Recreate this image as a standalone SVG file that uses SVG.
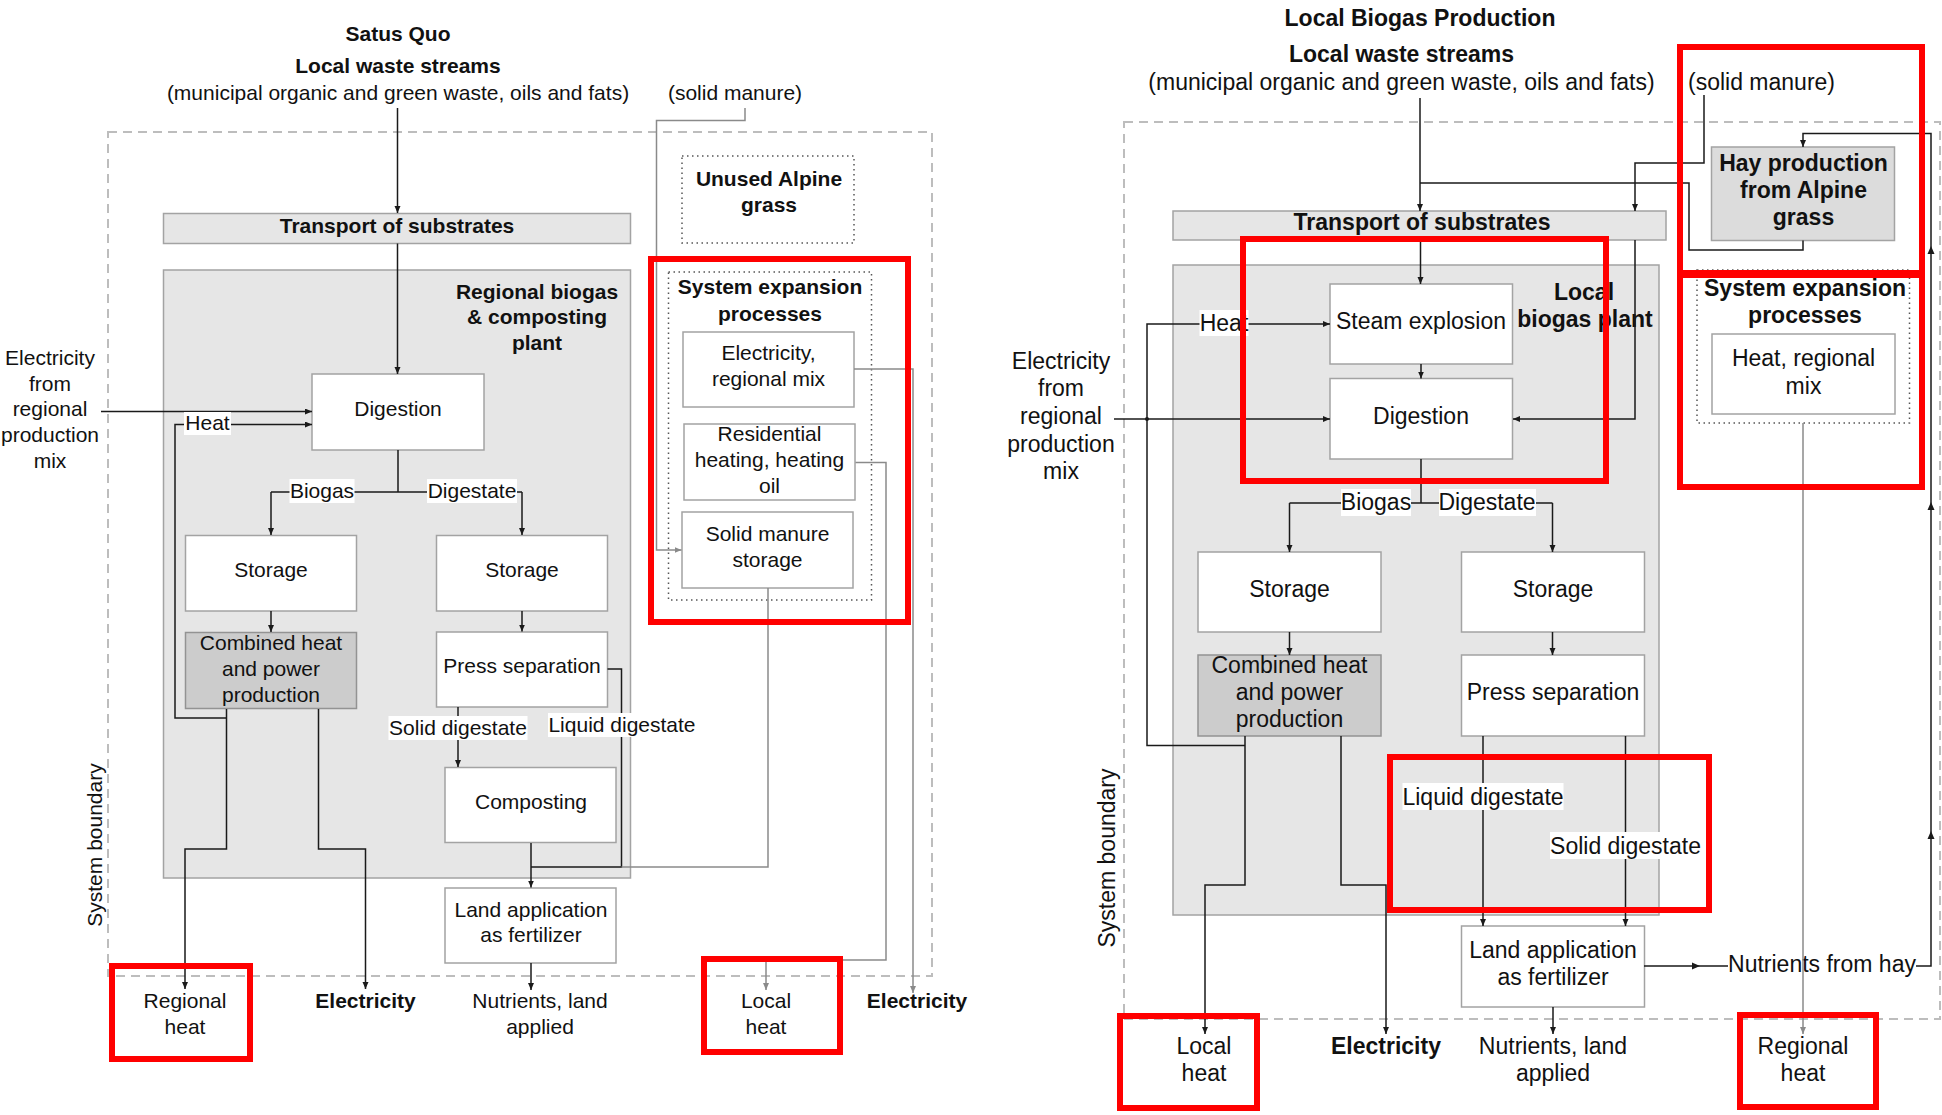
<svg xmlns="http://www.w3.org/2000/svg" width="1942" height="1115" viewBox="0 0 1942 1115">
<style>
text{font-family:"Liberation Sans",Arial,sans-serif;text-anchor:middle;dominant-baseline:central;fill:#111}
.L text{font-size:21px}
.R text{font-size:23px}
.b{font-weight:bold}
.box{fill:#fff;stroke:#a3a3a3;stroke-width:1.5}
.grey{fill:#e6e6e6;stroke:#a3a3a3;stroke-width:1.5}
.hay{fill:#dcdcdc;stroke:#a3a3a3;stroke-width:1.5}
.chp{fill:#cccccc;stroke:#939393;stroke-width:1.5}
.dot{fill:none;stroke:#555;stroke-width:1.5;stroke-dasharray:1.5 3.5}
.bnd{fill:none;stroke:#bdbdbd;stroke-width:2;stroke-dasharray:9 6}
.red{fill:none;stroke:#ff0000;stroke-width:6}
.c{fill:none;stroke:#1a1a1a;stroke-width:1.5}
.ca{fill:none;stroke:#1a1a1a;stroke-width:1.5;marker-end:url(#a)}
.g{fill:none;stroke:#8a8a8a;stroke-width:1.5}
.ga{fill:none;stroke:#8a8a8a;stroke-width:1.5;marker-end:url(#ag)}
.lb{fill:#fff}
.mk{fill:#1a1a1a}
</style>
<defs>
<marker id="a" markerWidth="8" markerHeight="8" refX="7" refY="3" orient="auto" markerUnits="userSpaceOnUse"><path d="M0,0 L7,3 L0,6 z" fill="#1a1a1a"/></marker>
<marker id="ag" markerWidth="8" markerHeight="8" refX="7" refY="3" orient="auto" markerUnits="userSpaceOnUse"><path d="M0,0 L7,3 L0,6 z" fill="#8a8a8a"/></marker>
</defs>
<rect width="1942" height="1115" fill="#fff"/>

<!-- ================= LEFT: Status Quo ================= -->
<g class="L" id="left">
  <g id="L-titles">
    <text class="b" x="398" y="33.5">Satus Quo</text>
    <text class="b" x="398" y="65">Local waste streams</text>
    <text x="398" y="92">(municipal organic and green waste, oils and fats)</text>
    <text x="735" y="92">(solid manure)</text>
  </g>
  <rect id="L-boundary" class="bnd" x="108" y="132" width="824" height="844"/>
  <text id="L-boundary-label" x="94" y="845" transform="rotate(-90 94 845)">System boundary</text>
  <g id="L-elec-in">
    <text x="50" y="357">Electricity</text>
    <text x="50" y="383">from</text>
    <text x="50" y="408.5">regional</text>
    <text x="50" y="434.5">production</text>
    <text x="50" y="460">mix</text>
  </g>
  <g id="L-transport">
    <rect class="grey" x="163.5" y="213.5" width="467" height="30"/>
    <text class="b" x="397" y="225.5">Transport of substrates</text>
  </g>
  <g id="L-plant">
    <rect class="grey" x="163.5" y="270" width="467" height="608"/>
    <text class="b" x="537" y="291">Regional biogas</text>
    <text class="b" x="537" y="316">&amp; composting</text>
    <text class="b" x="537" y="342">plant</text>
  </g>
  <g id="L-unused">
    <rect class="dot" x="682" y="156" width="172" height="87"/>
    <text class="b" x="769" y="178">Unused Alpine</text>
    <text class="b" x="769" y="204">grass</text>
  </g>
  <g id="L-sysexp">
    <rect class="dot" x="668.5" y="272" width="203" height="328"/>
    <text class="b" x="770" y="286.5">System expansion</text>
    <text class="b" x="770" y="313">processes</text>
  </g>
  <g id="L-elecmix">
    <rect class="box" x="683" y="332" width="171" height="75"/>
    <text x="768.5" y="352.5">Electricity,</text>
    <text x="768.5" y="378">regional mix</text>
  </g>
  <g id="L-residential">
    <rect class="box" x="684" y="424" width="171" height="76"/>
    <text x="769.5" y="433">Residential</text>
    <text x="769.5" y="459">heating, heating</text>
    <text x="769.5" y="485">oil</text>
  </g>
  <g id="L-manure">
    <rect class="box" x="682" y="512" width="171" height="76"/>
    <text x="767.5" y="533">Solid manure</text>
    <text x="767.5" y="559">storage</text>
  </g>
  <g id="L-digestion">
    <rect class="box" x="312" y="374" width="172" height="76"/>
    <text x="398" y="408">Digestion</text>
  </g>
  <g id="L-storage1">
    <rect class="box" x="185.5" y="535.5" width="171" height="75.5"/>
    <text x="271" y="569">Storage</text>
  </g>
  <g id="L-storage2">
    <rect class="box" x="436.5" y="535.5" width="171" height="75.5"/>
    <text x="522" y="569">Storage</text>
  </g>
  <g id="L-chp">
    <rect class="chp" x="185.5" y="632.5" width="171" height="76"/>
    <text x="271" y="642">Combined heat</text>
    <text x="271" y="668">and power</text>
    <text x="271" y="694">production</text>
  </g>
  <g id="L-press">
    <rect class="box" x="436.5" y="632" width="171" height="75"/>
    <text x="522" y="665.5">Press separation</text>
  </g>
  <g id="L-composting">
    <rect class="box" x="445" y="767.5" width="171" height="75"/>
    <text x="531" y="801">Composting</text>
  </g>
  <g id="L-land">
    <rect class="box" x="445" y="888" width="171" height="75"/>
    <text x="531" y="909">Land application</text>
    <text x="531" y="934">as fertilizer</text>
  </g>
  <g id="L-out-regheat"><text x="185" y="1000">Regional</text><text x="185" y="1026">heat</text></g>
  <g id="L-out-elec1"><text class="b" x="365.5" y="1000">Electricity</text></g>
  <g id="L-out-nutr"><text x="540" y="1000">Nutrients, land</text><text x="540" y="1026">applied</text></g>
  <g id="L-out-localheat"><text x="766" y="1000">Local</text><text x="766" y="1026">heat</text></g>
  <g id="L-out-elec2"><text class="b" x="917" y="1000">Electricity</text></g>

  <g id="L-connectors">
    <path class="ca" d="M397.5,108 V213"/>
    <path class="ca" d="M397.5,243.5 V374"/>
    <path class="ca" d="M101,411.5 H312"/>
    <path class="ca" d="M226.5,718 H175 V424.5 H312"/>
    <rect class="lb" x="184" y="412" width="47" height="23"/>
    <text x="207.5" y="422.5">Heat</text>
    <path class="ca" d="M226.5,709 V849 H185 V989"/>
    <path class="ca" d="M318.5,709 V849 H365.5 V989"/>
    <path class="c" d="M398,450 V492 M271,492 H522"/>
    <path class="ca" d="M271,492 V535"/>
    <path class="ca" d="M522,492 V535"/>
    <rect class="lb" x="289.5" y="479" width="65" height="24"/>
    <text x="322" y="490">Biogas</text>
    <rect class="lb" x="427" y="479" width="90" height="24"/>
    <text x="472" y="490">Digestate</text>
    <path class="ca" d="M271,611 V632"/>
    <path class="ca" d="M522,611 V631.5"/>
    <path class="ca" d="M458,707 V767"/>
    <rect class="lb" x="388.5" y="716" width="139" height="24"/>
    <text x="458" y="727.5">Solid digestate</text>
    <path class="c" d="M607.5,669 H621.5 V867 H531"/>
    <rect class="lb" x="548" y="713" width="148" height="24"/>
    <text x="622" y="724.5">Liquid digestate</text>
    <path class="ca" d="M531,843 V887.5"/>
    <path class="g" d="M768,588 V867 H621.5"/>
    <path class="ca" d="M531,963 V990"/>
    <path class="ga" d="M745,108 V120.5 H656.5 V550 H681.5"/>
    <path class="ga" d="M854,369 H913 V993"/>
    <path class="ga" d="M855.5,462.5 H886 V960 H766 V990"/>
  </g>

  <g id="L-highlights">
    <rect class="red" x="651" y="259" width="257" height="363"/>
    <rect class="red" x="112" y="966" width="138" height="93"/>
    <rect class="red" x="704" y="959" width="136" height="93"/>
  </g>
</g>

<!-- ================= RIGHT: Local Biogas Production ================= -->
<g class="R" id="right">
  <g id="R-titles">
    <text class="b" x="1420" y="17.5">Local Biogas Production</text>
    <text class="b" x="1401.5" y="54">Local waste streams</text>
    <text x="1401.5" y="82">(municipal organic and green waste, oils and fats)</text>
    <text x="1761.5" y="82">(solid manure)</text>
  </g>
  <rect id="R-boundary" class="bnd" x="1124" y="122" width="816" height="897"/>
  <text id="R-boundary-label" x="1107" y="858" transform="rotate(-90 1107 858)">System boundary</text>
  <g id="R-elec-in">
    <text x="1061" y="361">Electricity</text>
    <text x="1061" y="388">from</text>
    <text x="1061" y="416">regional</text>
    <text x="1061" y="444">production</text>
    <text x="1061" y="471">mix</text>
  </g>
  <g id="R-transport">
    <rect class="grey" x="1173" y="211" width="493" height="29"/>
    <text class="b" x="1422" y="222">Transport of substrates</text>
  </g>
  <g id="R-plant">
    <rect class="grey" x="1173" y="265" width="486" height="650"/>
    <text class="b" x="1584" y="292">Local</text>
    <text class="b" x="1585" y="319">biogas plant</text>
  </g>
  <g id="R-hay">
    <rect class="hay" x="1711.5" y="147" width="183" height="93.5"/>
    <text class="b" x="1803.5" y="163">Hay production</text>
    <text class="b" x="1803.5" y="190">from Alpine</text>
    <text class="b" x="1803.5" y="217">grass</text>
  </g>
  <g id="R-sysexp">
    <rect class="dot" x="1697" y="270" width="212.5" height="153"/>
    <text class="b" x="1805" y="288">System expansion</text>
    <text class="b" x="1805" y="315">processes</text>
  </g>
  <g id="R-heatmix">
    <rect class="box" x="1712" y="334" width="183" height="80"/>
    <text x="1803.5" y="358">Heat, regional</text>
    <text x="1803.5" y="386">mix</text>
  </g>
  <g id="R-steam">
    <rect class="box" x="1330" y="284" width="182.5" height="80"/>
    <text x="1421" y="321">Steam explosion</text>
  </g>
  <g id="R-digestion">
    <rect class="box" x="1330" y="378.5" width="182.5" height="80.5"/>
    <text x="1421" y="416">Digestion</text>
  </g>
  <g id="R-storage1">
    <rect class="box" x="1198" y="552" width="183" height="80"/>
    <text x="1289.5" y="588.5">Storage</text>
  </g>
  <g id="R-storage2">
    <rect class="box" x="1461.5" y="552" width="183" height="80"/>
    <text x="1553" y="588.5">Storage</text>
  </g>
  <g id="R-chp">
    <rect class="chp" x="1198" y="655" width="183" height="81"/>
    <text x="1289.5" y="665">Combined heat</text>
    <text x="1289.5" y="692">and power</text>
    <text x="1289.5" y="719">production</text>
  </g>
  <g id="R-press">
    <rect class="box" x="1461.5" y="655" width="183" height="81"/>
    <text x="1553" y="691.5">Press separation</text>
  </g>
  <g id="R-land">
    <rect class="box" x="1461.5" y="926" width="183" height="81"/>
    <text x="1553" y="949.5">Land application</text>
    <text x="1553" y="976.5">as fertilizer</text>
  </g>
  <g id="R-out-localheat"><text x="1204" y="1045.5">Local</text><text x="1204" y="1072.5">heat</text></g>
  <g id="R-out-elec"><text class="b" x="1386" y="1045.5">Electricity</text></g>
  <g id="R-out-nutr"><text x="1553" y="1045.5">Nutrients, land</text><text x="1553" y="1072.5">applied</text></g>
  <g id="R-out-regheat"><text x="1803" y="1045.5">Regional</text><text x="1803" y="1072.5">heat</text></g>

  <g id="R-connectors">
    <path class="ca" d="M1420,98 V211"/>
    <path class="c" d="M1803,240.5 V250 H1689 V183 H1420"/>
    <path class="ca" d="M1704,95 V163 H1635 V211"/>
    <path class="ca" d="M1635,240 V419 H1513"/>
    <path class="ca" d="M1420.5,240 V284"/>
    <path class="ca" d="M1421,364 V378.5"/>
    <path class="ca" d="M1114,419 H1330"/>
    <circle class="mk" cx="1147" cy="419" r="2"/>
    <path class="ca" d="M1245,745.5 H1147 V324 H1330"/>
    <rect class="lb" x="1199.5" y="310" width="49" height="26"/>
    <text x="1224" y="322.5">Heat</text>
    <path class="ca" d="M1245,736 V885 H1205 V1034"/>
    <path class="ca" d="M1341,736 V885 H1386 V1034"/>
    <path class="c" d="M1421,459 V503 M1289.5,503 H1552.5"/>
    <path class="ca" d="M1289.5,503 V552"/>
    <path class="ca" d="M1552.5,503 V552"/>
    <rect class="lb" x="1341" y="489" width="70" height="27"/>
    <text x="1376" y="502">Biogas</text>
    <rect class="lb" x="1439" y="489" width="97" height="27"/>
    <text x="1487" y="502">Digestate</text>
    <path class="ca" d="M1289.5,632 V655"/>
    <path class="ca" d="M1552.5,632 V655"/>
    <path class="ca" d="M1483,736 V926"/>
    <rect class="lb" x="1402.5" y="783" width="161" height="27"/>
    <text x="1483" y="796.5">Liquid digestate</text>
    <path class="ca" d="M1625.5,736 V926"/>
    <rect class="lb" x="1550" y="832" width="151" height="27"/>
    <text x="1625.5" y="846">Solid digestate</text>
    <path class="ca" d="M1553,1007 V1034"/>
    <path class="ca" d="M1644,966 H1931 V133.5 H1803 V147"/>
    <polygon class="mk" points="1692,962.5 1700,966 1692,969.5"/>
    <polygon class="mk" points="1927.5,839 1931,831 1934.5,839"/>
    <polygon class="mk" points="1927.5,510 1931,502 1934.5,510"/>
    <polygon class="mk" points="1927.5,254 1931,246 1934.5,254"/>
    <rect class="lb" x="1728" y="951" width="188" height="27"/>
    <text x="1822" y="964">Nutrients from hay</text>
    <path class="ga" d="M1803,423 V1034"/>
  </g>

  <g id="R-highlights">
    <rect class="red" x="1680" y="47" width="242" height="226"/>
    <rect class="red" x="1680" y="275" width="242" height="212"/>
    <rect class="red" x="1243" y="239" width="363" height="242"/>
    <rect class="red" x="1390" y="757" width="319" height="153"/>
    <rect class="red" x="1120" y="1016" width="137" height="92"/>
    <rect class="red" x="1740" y="1015" width="136" height="92"/>
  </g>
</g>
</svg>
